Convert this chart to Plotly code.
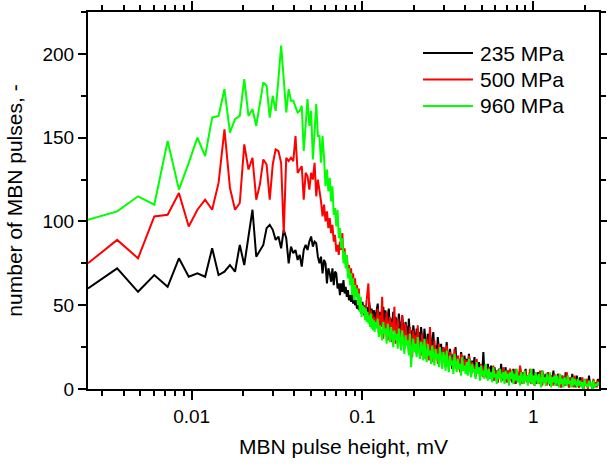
import numpy as np
import plotly.graph_objects as go

# Pulse-height bins (linear bins of the analyser) for the low range, mV
BIN_START = 0.00247
BIN_WIDTH = 0.00119
N_BINS = 100
# Sampling grid used to read the dense tail, mV
TAIL_START = 0.1229
TAIL_END = 2.43
N_TAIL = 200

# ---- 235 MPa ----
black_low = [60, 72, 58, 68, 61, 78, 67, 69, 67, 84, 68, 70, 74, 70, 86, 74, 91, 107, 79, 83,
             86, 96, 98, 95, 89, 91, 84,
             95, 90, 75, 85, 81, 83, 77, 80, 73, 83, 86, 83, 88, 91, 85, 88, 87, 79, 75, 79,
             69, 77, 75, 63, 72, 69, 64, 72, 62, 70, 69, 60, 63,
             56, 63, 58, 65, 57, 61, 55, 59, 53, 56, 52, 58, 51, 55, 50, 53, 48, 52, 47, 53,
             49, 45, 52, 47, 44, 50, 45, 49, 46, 43, 52, 46, 43, 48, 44, 41, 47, 42, 40, 45]
black_tail = [51, 39, 46, 42, 37, 49, 40, 47, 36, 44, 48, 35, 42, 39, 46, 34, 43, 40, 33, 45,
              38, 30, 44, 33, 29, 40, 36, 27, 42, 31, 35, 26, 38, 32, 25, 36, 29, 34, 24, 37,
              30, 23, 36, 27, 21, 33, 25, 35, 20, 28, 34, 22, 26, 18, 31, 24, 19, 27, 16, 25,
              22, 15, 28, 19, 14, 24, 18, 12, 21, 16, 25, 13, 19, 15, 11, 22, 17, 12, 20, 14,
              18, 10, 21, 14, 9, 17, 12, 19, 8, 15, 11, 16, 7, 14, 10, 22, 9, 13, 7, 15,
              11, 6, 14, 9, 5, 13, 8, 11, 4, 12, 7, 15, 5, 10, 8, 13, 4, 11, 6, 12,
              9, 4, 12, 7, 3, 11, 8, 5, 13, 6, 10, 3, 9, 12, 5, 8, 4, 11, 7, 3,
              12, 6, 9, 3, 10, 5, 8, 2, 11, 6, 4, 9, 3, 10, 7, 2, 8, 5, 11, 3,
              7, 2, 9, 4, 6, 1, 8, 5, 2, 10, 3, 7, 1, 6, 4, 9, 2, 5, 1, 8,
              4, 1, 7, 3, 5, 0, 6, 2, 4, 1, 8, 2, 3, 0, 5, 1, 4, 2, 6, 2]

# ---- 500 MPa ----
red_low = [75, 89, 78, 103, 104, 117, 97, 107, 113, 107, 123, 155, 120, 107, 111, 146, 131, 138,
           113, 122, 137, 134, 113, 134, 143, 142, 135,
           93, 138, 136, 138, 136, 151, 129, 131, 133, 113, 129, 127, 119, 129, 125, 135, 115,
           125, 119,
           112, 103, 110, 100, 106, 96, 102, 93, 98, 88, 92, 82, 86, 80, 88, 83, 93, 78, 84, 75,
           80, 70, 74, 68, 72, 64, 69, 61, 66, 58, 62, 55, 60, 50, 54, 45, 50, 46, 49, 44, 48,
           52, 58, 63, 50, 44, 47, 41, 45, 40, 43, 38, 42, 37]
red_tail = [48, 33, 44, 37, 55, 30, 41, 36, 46, 29, 38, 43, 28, 40, 35, 49, 27, 37, 42, 30,
            36, 26, 44, 31, 24, 39, 28, 33, 22, 37, 30, 19, 35, 27, 32, 21, 38, 25, 29, 20,
            33, 22, 28, 18, 30, 24, 17, 37, 21, 26, 16, 29, 20, 24, 15, 27, 19, 22, 14, 25,
            20, 13, 26, 17, 12, 22, 16, 19, 11, 24, 15, 12, 20, 14, 10, 21, 16, 11, 18, 13,
            17, 9, 20, 13, 8, 16, 11, 14, 7, 18, 10, 13, 8, 15, 11, 7, 14, 9, 12, 6,
            13, 6, 10, 8, 14, 5, 11, 7, 4, 12, 9, 5, 10, 13, 6, 8, 4, 11, 7, 12,
            5, 10, 7, 3, 12, 6, 9, 4, 14, 7, 3, 10, 6, 11, 4, 8, 5, 12, 3, 9,
            6, 2, 10, 5, 8, 3, 11, 6, 2, 9, 4, 7, 2, 10, 5, 3, 8, 6, 2, 9,
            4, 7, 2, 9, 5, 1, 8, 3, 6, 2, 10, 4, 1, 7, 3, 5, 1, 8, 4, 2,
            6, 1, 5, 3, 7, 1, 4, 2, 6, 0, 5, 2, 3, 1, 6, 2, 4, 1, 5, 2]

# ---- 960 MPa ----
green_low = [101, 106, 115, 110, 148, 119, 135, 150, 139, 162, 163, 179, 153, 161, 163, 185, 163,
             167, 157, 170, 183, 181, 162, 175, 166, 185, 205,
             185, 165, 179, 172, 172, 168, 165, 166, 169, 142, 160, 173, 157, 166, 137, 155, 170,
             151, 151, 135, 151, 138,
             121, 131, 118, 126, 112, 121, 104, 108, 97, 107, 90, 96, 84, 90, 75, 82, 72, 80, 66,
             72, 62, 69, 56, 66, 53, 62, 55, 60, 50, 57, 46, 55, 43, 50, 45, 49, 41, 48, 40, 46,
             39, 44, 37, 45, 36, 42, 35, 41, 34, 40, 36]
green_tail = [42, 31, 38, 34, 29, 40, 33, 36, 27, 39, 32, 28, 37, 30, 25, 35, 29, 33, 24, 36,
              30, 23, 35, 27, 21, 32, 26, 29, 20, 33, 13, 24, 30, 22, 27, 19, 31, 23, 18, 28,
              25, 17, 30, 21, 16, 27, 20, 23, 15, 26, 19, 14, 24, 18, 21, 13, 25, 17, 12, 22,
              19, 11, 23, 15, 10, 20, 14, 17, 9, 21, 13, 10, 18, 12, 15, 8, 19, 11, 14, 9,
              16, 8, 18, 11, 7, 15, 10, 12, 6, 16, 9, 13, 5, 14, 8, 11, 6, 15, 9, 5,
              12, 6, 10, 4, 13, 7, 9, 3, 11, 6, 12, 4, 8, 10, 3, 11, 6, 9, 2, 10,
              6, 11, 3, 9, 5, 12, 4, 8, 2, 10, 6, 3, 11, 5, 8, 2, 9, 4, 12, 3,
              8, 2, 10, 5, 3, 9, 6, 1, 11, 4, 7, 2, 9, 5, 3, 10, 1, 7, 4, 8,
              2, 8, 4, 1, 9, 3, 6, 1, 7, 4, 2, 8, 3, 5, 1, 7, 2, 6, 3, 1,
              6, 2, 5, 1, 4, 0, 6, 2, 3, 1, 5, 2, 4, 0, 5, 1, 3, 2, 4, 2]

series_names = ["235 MPa", "500 MPa", "960 MPa"]
series_colors = ["#000000", "#ff0000", "#00ff00"]

x_low = BIN_START + BIN_WIDTH * np.arange(N_BINS)
x_tail = np.geomspace(TAIL_START, TAIL_END, N_TAIL)
x_all = np.concatenate([x_low, x_tail])

ys = [black_low + black_tail, red_low + red_tail, green_low + green_tail]

fig = go.Figure()
for name, col, y in zip(series_names, series_colors, ys):
    fig.add_trace(go.Scatter(x=x_all, y=y, mode="lines", name=name,
                             line=dict(color=col, width=2), showlegend=False))

# Legend drawn in paper coordinates (sample line + label per series)
LEG_X0, LEG_X1, LEG_TX = 0.6556, 0.7534, 0.7632
LEG_ROWS = [0.8912, 0.8210, 0.7507]
for name, col, yy in zip(series_names, series_colors, LEG_ROWS):
    fig.add_shape(type="line", xref="paper", yref="paper", x0=LEG_X0, x1=LEG_X1,
                  y0=yy, y1=yy, line=dict(color=col, width=2))
    fig.add_annotation(xref="paper", yref="paper", x=LEG_TX, y=yy, text=name,
                       showarrow=False, xanchor="left", yanchor="middle",
                       font=dict(size=21, color="black"))

FONT = "Arial, Liberation Sans, sans-serif"
x_minor = [m * 10.0 ** e for e in (-3, -2, -1, 0) for m in range(2, 10)]
x_minor = [v for v in x_minor if 0.00247 < v < 2.43]

fig.update_layout(
    width=607, height=464,
    margin=dict(l=88, r=8, t=12, b=75, autoexpand=False),
    paper_bgcolor="white", plot_bgcolor="white",
    font=dict(family=FONT, size=19, color="black"),
    showlegend=False,
)
fig.update_xaxes(
    type="log", range=[np.log10(0.00247), np.log10(2.43)],
    tickvals=[0.01, 0.1, 1], ticktext=["0.01", "0.1", "1"],
    ticks="outside", ticklen=9, tickwidth=1.5, tickcolor="black",
    minor=dict(ticks="outside", ticklen=5, tickwidth=1.5, tickcolor="black",
               tickvals=x_minor, showgrid=False),
    showline=True, linewidth=2, linecolor="black", mirror="ticks",
    showgrid=False, zeroline=False, automargin=False,
    title=dict(text="MBN pulse height, mV", font=dict(size=21), standoff=14),
)
fig.update_yaxes(
    range=[0, 225], tickvals=[0, 50, 100, 150, 200],
    ticks="outside", ticklen=8, tickwidth=1.5, tickcolor="black",
    minor=dict(ticks="outside", ticklen=5, tickwidth=1.5, tickcolor="black",
               dtick=25, showgrid=False),
    showline=True, linewidth=2, linecolor="black", mirror="ticks",
    showgrid=False, zeroline=False, automargin=False,
    title=dict(text="number of MBN pulses, -", font=dict(size=21), standoff=14),
)

fig.write_html("out.html")
